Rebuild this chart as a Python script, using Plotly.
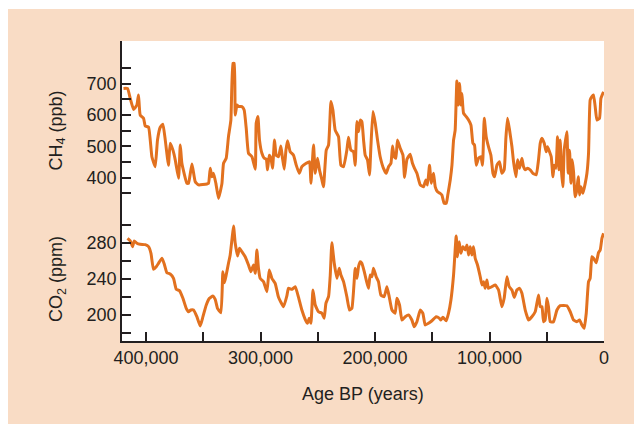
import plotly.graph_objects as go

# ---------------- data ----------------
ch4_age_kyr = [419.7, 416.2, 413.8, 410.9, 408.0, 406.6, 405.1, 402.2, 400.7, 397.8,
               394.9, 392.0, 390.0, 387.6, 385.3, 383.2, 380.4, 378.9, 376.5, 374.5,
               371.6, 370.1, 368.7, 364.3, 362.9, 359.9, 357.0, 354.2, 346.8, 345.4,
               343.9, 342.5, 341.1, 339.0, 336.7, 335.2, 333.7, 332.3, 330.0, 328.0,
               325.9, 324.1, 323.0, 322.1, 320.6, 319.2, 316.3, 314.3, 312.5, 310.5,
               307.5, 304.6, 303.8, 302.3, 300.9, 298.8, 296.8, 295.0, 293.9, 292.4,
               290.9, 289.5, 287.8, 286.3, 284.3, 282.2, 280.8, 279.3, 277.8, 276.4,
               274.1, 271.2, 268.8, 266.2, 263.9, 260.1, 257.2, 256.0, 253.7, 252.2,
               250.2, 248.5, 246.4, 245.0, 242.6, 240.6, 238.5, 236.8, 234.8, 231.9,
               229.8, 227.5, 224.6, 223.2, 221.1, 218.8, 217.3, 215.8, 214.4, 212.9,
               211.5, 210.0, 208.6, 206.6, 204.8, 203.6, 201.8, 199.8, 197.8, 195.5,
               192.6, 190.2, 188.2, 186.1, 184.7, 183.2, 181.8, 180.4, 178.0, 175.6,
               174.2, 172.1, 169.3, 167.3, 165.5, 163.4, 160.5, 157.6, 155.6, 154.2,
               152.4, 150.9, 148.9, 147.4, 145.4, 143.1, 141.6, 139.6, 137.8, 136.3,
               134.3, 132.8, 131.4, 130.0, 128.5, 127.3, 126.2, 125.0, 124.1, 122.7,
               120.4, 118.3, 116.2, 114.5, 113.1, 111.6, 109.6, 107.5, 106.1, 104.6,
               102.9, 100.9, 98.8, 97.0, 95.6, 93.5, 91.3, 89.2, 87.2, 85.7,
               84.3, 82.5, 80.4, 79.0, 76.9, 75.5, 73.8, 71.7, 70.3, 68.8,
               66.8, 64.5, 62.1, 59.2, 57.2, 55.7, 54.2, 52.2, 50.5, 49.3,
               47.6, 46.1, 44.6, 43.5, 42.0, 40.6, 39.4, 38.3, 37.1, 35.9,
               34.8, 33.6, 32.4, 31.3, 30.1, 28.9, 27.8, 26.6, 25.2, 23.7,
               22.5, 21.4, 20.2, 18.4, 16.4, 14.9, 13.5, 12.1, 10.6, 9.2,
               7.7, 6.2, 3.9, 2.7, 0.4]
ch4_ppb = [685, 685, 653, 618, 632, 664, 600, 590, 565, 561,
           467, 435, 520, 561, 571, 520, 440, 510, 488, 457,
           398, 504, 446, 382, 382, 444, 387, 377, 380, 382,
           430, 403, 414, 382, 334, 355, 382, 446, 462, 531,
           584, 765, 765, 600, 632, 627, 627, 616, 558, 478,
           467, 427, 574, 595, 520, 478, 462, 459, 425, 472,
           462, 430, 520, 472, 467, 501, 462, 427, 488, 518,
           483, 472, 440, 414, 435, 446, 451, 382, 504, 414,
           462, 425, 393, 371, 488, 504, 643, 616, 552, 531,
           440, 435, 488, 529, 488, 483, 440, 579, 547, 584,
           579, 520, 472, 457, 409, 499, 611, 574, 520, 467,
           430, 414, 435, 446, 501, 467, 462, 520, 494, 472,
           401, 459, 475, 446, 430, 414, 377, 371, 393, 377,
           440, 382, 414, 371, 355, 350, 345, 318, 318, 348,
           393, 440, 520, 552, 709, 632, 701, 632, 669, 606,
           595, 584, 568, 510, 504, 440, 462, 467, 440, 590,
           531, 499, 472, 414, 403, 440, 451, 414, 425, 526,
           590, 552, 499, 451, 403, 457, 430, 462, 435, 425,
           430, 425, 414, 409, 457, 510, 526, 510, 483, 499,
           483, 467, 403, 440, 430, 531, 425, 520, 419, 371,
           488, 520, 547, 414, 488, 382, 457, 419, 339, 361,
           403, 345, 371, 350, 382, 414, 478, 648, 659, 664,
           627, 584, 590, 653, 674]

co2_age_kyr = [416.2, 413.8, 411.8, 410.3, 408.0, 405.1, 400.7, 397.8, 395.7, 393.5,
               391.1, 389.1, 386.1, 384.1, 381.8, 378.9, 376.0, 373.6, 370.8, 367.8,
               364.9, 362.9, 360.8, 358.5, 355.6, 352.7, 350.3, 347.4, 344.6, 341.6,
               339.6, 337.6, 334.6, 332.9, 331.5, 330.0, 328.0, 326.5, 325.0, 323.6,
               322.1, 320.1, 318.4, 316.3, 313.4, 310.5, 308.4, 306.1, 304.6, 303.2,
               301.8, 300.3, 297.4, 294.4, 292.4, 290.1, 287.2, 284.3, 279.9, 277.0,
               275.6, 272.6, 269.7, 266.8, 263.9, 261.0, 259.0, 257.5, 256.0, 254.2,
               252.2, 249.4, 246.4, 244.4, 242.9, 240.6, 239.1, 237.7, 235.6, 233.3,
               231.3, 229.8, 227.5, 224.6, 222.3, 220.2, 217.3, 215.8, 214.4, 212.9,
               211.5, 209.4, 207.7, 205.7, 204.2, 202.7, 201.3, 199.0, 197.0, 194.9,
               192.0, 189.6, 187.6, 185.2, 182.4, 180.9, 178.6, 176.5, 173.6, 170.7,
               167.8, 165.8, 163.4, 160.5, 158.2, 156.2, 153.3, 150.3, 146.6, 143.7,
               142.5, 140.7, 137.8, 135.8, 133.7, 131.4, 129.1, 128.0, 126.5, 125.0,
               123.2, 121.2, 119.7, 118.3, 116.9, 115.4, 114.0, 112.5, 110.5, 108.1,
               106.6, 105.2, 103.8, 102.3, 100.9, 97.9, 95.0, 92.1, 89.2, 87.2,
               84.8, 82.8, 80.4, 78.4, 76.1, 73.8, 71.7, 68.8, 65.9, 63.0,
               60.1, 57.2, 55.7, 54.2, 52.8, 51.4, 49.9, 48.5, 47.0, 44.1,
               41.1, 38.3, 32.4, 29.5, 26.6, 23.7, 21.4, 19.3, 17.3, 15.5,
               13.5, 12.1, 10.6, 9.2, 6.8, 4.8, 3.3, 1.8, 0.4]
co2_ppm = [284.9, 282.0, 275.6, 282.0, 279.3, 278.2, 277.8, 275.6, 268.2, 250.4,
           253.3, 257.1, 262.7, 256.3, 246.7, 245.2, 240.4, 228.2, 226.7, 218.2,
           207.1, 203.3, 205.2, 205.2, 197.8, 187.5, 197.8, 210.8, 218.2, 220.8,
           217.1, 207.1, 202.2, 247.8, 235.6, 244.1, 257.1, 266.3, 283.0, 298.6,
           279.3, 265.2, 273.8, 270.0, 264.4, 255.2, 247.8, 255.2, 246.0, 271.9,
           251.6, 240.4, 236.7, 225.6, 249.7, 240.4, 234.9, 219.3, 208.9, 220.8,
           229.3, 228.2, 231.1, 219.3, 205.2, 194.9, 190.4, 196.0, 190.4, 227.4,
           210.8, 203.3, 201.6, 196.0, 212.7, 220.0, 244.1, 280.0, 257.1, 240.4,
           251.6, 244.1, 236.7, 220.0, 205.2, 207.1, 251.6, 240.4, 253.3, 258.9,
           257.1, 247.8, 238.6, 229.3, 244.1, 242.2, 251.6, 242.2, 236.7, 221.9,
           220.0, 231.1, 220.0, 205.2, 201.6, 218.2, 210.8, 194.1, 197.8, 199.7,
           194.1, 186.7, 192.2, 205.2, 201.6, 188.6, 190.4, 193.3, 197.8, 196.0,
           194.1, 197.1, 193.3, 201.6, 216.3, 244.1, 287.4, 264.4, 281.1, 268.2,
           275.6, 271.9, 277.4, 266.3, 275.6, 266.3, 275.6, 262.7, 255.2, 242.2,
           233.0, 236.7, 229.3, 238.6, 229.3, 231.1, 233.0, 227.4, 208.9, 218.2,
           242.2, 231.1, 227.4, 219.3, 227.4, 229.3, 223.8, 205.2, 194.1, 197.8,
           203.3, 221.9, 208.9, 208.9, 192.2, 194.1, 218.2, 208.9, 192.2, 192.2,
           205.2, 210.0, 210.0, 203.3, 194.1, 192.2, 194.1, 188.6, 184.9, 201.6,
           236.7, 240.4, 264.4, 262.7, 257.8, 268.9, 271.9, 284.9, 290.4]

# labelled ticks and unlabelled (minor) ticks
x_tickvals = [400000, 300000, 200000, 100000, 0]
x_ticktext = ["400,000", "300,000", "200,000", "100,000", "0"]
x_minorvals = [350000, 250000, 150000, 50000]
ch4_tickvals = [400, 500, 600, 700]
ch4_ticktext = ["400", "500", "600", "700"]
ch4_minorvals = [350, 450, 550, 650, 750]
co2_tickvals = [200, 240, 280]
co2_ticktext = ["200", "240", "280"]
co2_minorvals = [180, 220, 260, 300]

x_title = "Age BP (years)"
ch4_title = "CH<sub>4</sub> (ppb)"
co2_title = "CO<sub>2</sub> (ppm)"

# ---------------- style ----------------
LINE = "#E2711F"
INK = "#231F20"
PEACH = "#F9DCC5"
FONT = "Liberation Sans, Arial, Helvetica, sans-serif"
FS = 18

fig = go.Figure()
fig.add_trace(go.Scatter(x=[a * 1000 for a in ch4_age_kyr], y=ch4_ppb, mode="lines",
                         line=dict(color=LINE, width=3, shape="spline", smoothing=0.4),
                         yaxis="y", hoverinfo="skip"))
fig.add_trace(go.Scatter(x=[a * 1000 for a in co2_age_kyr], y=co2_ppm, mode="lines",
                         line=dict(color=LINE, width=3, shape="spline", smoothing=0.4),
                         yaxis="y2", hoverinfo="skip"))

# page has an 8 px body margin, so the figure is 634x418 and sits at (8, 8)
OFF = 8
W, H = 634, 418
L, R, T, B = 114, 38, 33, 85
pw, ph = W - L - R, H - T - B


def px_x(p):  # page pixel -> paper x
    return (p - OFF - L) / pw


def px_y(p):  # page pixel -> paper y
    return (H - B - (p - OFF)) / ph


split = px_y(209)


def axis_style(minorvals):
    return dict(showline=True, linecolor=INK, linewidth=1.6, ticks="inside",
                ticklen=9, tickwidth=1.6, tickcolor=INK, showgrid=False,
                zeroline=False, tickfont=dict(family=FONT, size=FS, color=INK),
                fixedrange=True,
                minor=dict(tickmode="array", tickvals=minorvals, ticks="inside",
                           ticklen=9, tickwidth=1.6, tickcolor=INK, showgrid=False))


fig.update_layout(
    width=W, height=H,
    margin=dict(l=L, r=R, t=T, b=B, pad=0),
    paper_bgcolor="white",
    plot_bgcolor="rgba(0,0,0,0)",
    showlegend=False,
    xaxis=dict(range=[421000, 0], tickmode="array", tickvals=x_tickvals,
               ticktext=x_ticktext, anchor="y2", **axis_style(x_minorvals)),
    yaxis=dict(domain=[split, 1], range=[300.1, 836.3], tickmode="array",
               tickvals=ch4_tickvals, ticktext=ch4_ticktext, anchor="x",
               **axis_style(ch4_minorvals)),
    yaxis2=dict(domain=[0, split], range=[170.8, 317.4], tickmode="array",
                tickvals=co2_tickvals, ticktext=co2_ticktext, anchor="x",
                **axis_style(co2_minorvals)),
    shapes=[
        dict(type="rect", xref="paper", yref="paper", layer="below",
             x0=px_x(8), x1=px_x(642), y0=px_y(424), y1=px_y(9),
             fillcolor=PEACH, line=dict(width=0)),
        dict(type="rect", xref="paper", yref="paper", layer="below",
             x0=0, x1=1, y0=0, y1=1, fillcolor="white", line=dict(width=0)),
    ],
    annotations=[
        dict(text=ch4_title, xref="paper", yref="paper", x=px_x(57), y=px_y(130.5),
             textangle=-90, showarrow=False, xanchor="center", yanchor="middle",
             font=dict(family=FONT, size=FS, color=INK)),
        dict(text=co2_title, xref="paper", yref="paper", x=px_x(57), y=px_y(279),
             textangle=-90, showarrow=False, xanchor="center", yanchor="middle",
             font=dict(family=FONT, size=FS, color=INK)),
        dict(text=x_title, xref="paper", yref="paper", x=px_x(363), y=px_y(394),
             showarrow=False, xanchor="center", yanchor="middle",
             font=dict(family=FONT, size=FS, color=INK)),
    ],
)

fig.write_html("out.html")
